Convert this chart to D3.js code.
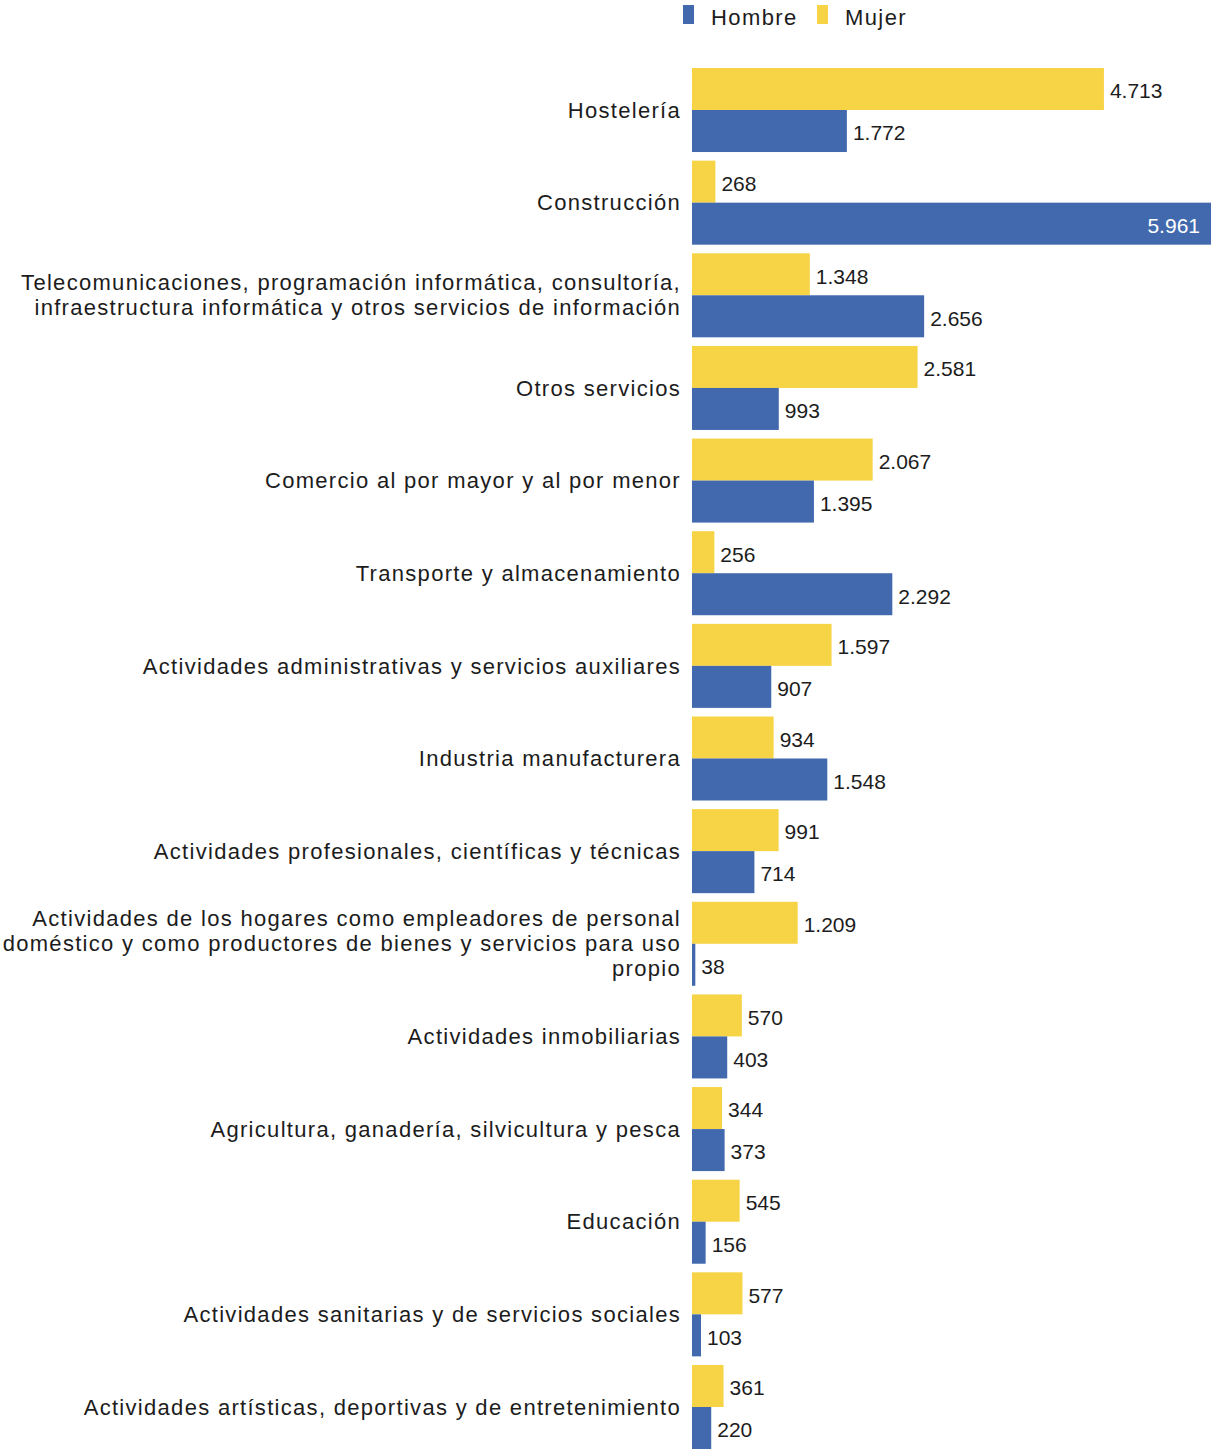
<!DOCTYPE html>
<html lang="es">
<head>
<meta charset="UTF-8" />
<title>Hombre / Mujer por actividad</title>
<script src="https://d3js.org/d3.v7.min.js"></script>
<style>
  body { margin: 0; background: #fff; }
  text { font-family: "Liberation Sans", Arial, sans-serif; fill: #1c1c1c; }
</style>
</head>
<body>
<script>

// categories, top to bottom (lines split where the label wraps)
var categories = [
  ["Hostelería"],
  ["Construcción"],
  ["Telecomunicaciones, programación informática, consultoría,", "infraestructura informática y otros servicios de información"],
  ["Otros servicios"],
  ["Comercio al por mayor y al por menor"],
  ["Transporte y almacenamiento"],
  ["Actividades administrativas y servicios auxiliares"],
  ["Industria manufacturera"],
  ["Actividades profesionales, científicas y técnicas"],
  ["Actividades de los hogares como empleadores de personal", "doméstico y como productores de bienes y servicios para uso", "propio"],
  ["Actividades inmobiliarias"],
  ["Agricultura, ganadería, silvicultura y pesca"],
  ["Educación"],
  ["Actividades sanitarias y de servicios sociales"],
  ["Actividades artísticas, deportivas y de entretenimiento"]
];

var mujer  = [4713, 268, 1348, 2581, 2067, 256, 1597, 934, 991, 1209, 570, 344, 545, 577, 361];
var hombre = [1772, 5961, 2656, 993, 1395, 2292, 907, 1548, 714, 38, 403, 373, 156, 103, 220];

var series = ["Mujer", "Hombre"];
var legendOrder = ["Hombre", "Mujer"];

var width = 1211, height = 1450;
var axisX = 692;

var color = d3.scaleOrdinal()
  .domain(["Hombre", "Mujer"])
  .range(["#4269ad", "#f7d445"]);

var fmt = d3.formatLocale({decimal: ",", thousands: ".", grouping: [3], currency: ["", "€"]}).format(",d");

var keys = categories.map(function(d) { return d.join(" "); });

var rows = keys.map(function(k, i) {
  return {key: k, lines: categories[i], Mujer: mujer[i], Hombre: hombre[i]};
});

var svg = d3.select("body").append("svg")
  .attr("width", width)
  .attr("height", height);

var y = d3.scaleBand()
  .domain(keys)
  .range([68, 1449])
  .paddingInner(0.093)
  .paddingOuter(0);

var yInner = d3.scaleBand()
  .domain(series)
  .range([0, y.bandwidth()]);

var x = d3.scaleLinear()
  .domain([0, 5961])
  .range([axisX, 1213]);

var groups = svg.append("g")
  .selectAll("g")
  .data(rows)
  .enter().append("g")
  .attr("transform", function(d) { return "translate(0," + y(d.key) + ")"; });

groups.selectAll("rect")
  .data(function(d) { return series.map(function(s) { return {s: s, v: d[s]}; }); })
  .enter().append("rect")
  .attr("x", x(0))
  .attr("y", function(d) { return yInner(d.s); })
  .attr("width", function(d) { return x(d.v) - x(0); })
  .attr("height", yInner.bandwidth())
  .attr("fill", function(d) { return color(d.s); });

// value labels: inside the bar if it would run off the page
groups.selectAll("text.val")
  .data(function(d) { return series.map(function(s) { return {s: s, v: d[s]}; }); })
  .enter().append("text")
  .attr("class", "val")
  .attr("font-size", "21px")
  .attr("dy", "0.35em")
  .attr("y", function(d) { return yInner(d.s) + yInner.bandwidth() / 2 + 2; })
  .attr("x", function(d) { return x(d.v) > 1150 ? width - 11 : x(d.v) + 6; })
  .attr("text-anchor", function(d) { return x(d.v) > 1150 ? "end" : "start"; })
  .style("fill", function(d) { return x(d.v) > 1150 ? "#fff" : null; })
  .text(function(d) { return fmt(d.v); });

// category labels
var lineH = 25;
groups.append("text")
  .attr("class", "cat")
  .attr("font-size", "22px")
  .attr("letter-spacing", "1.3px")
  .attr("text-anchor", "end")
  .selectAll("tspan")
  .data(function(d) {
    return d.lines.map(function(l, i) { return {l: l, i: i, n: d.lines.length}; });
  })
  .enter().append("tspan")
  .attr("x", 681)
  .attr("y", function(d) { return y.bandwidth() / 2 + (d.i - (d.n - 1) / 2) * lineH; })
  .attr("dy", "0.35em")
  .text(function(d) { return d.l; });

// legend
var legend = svg.append("g")
  .selectAll("g")
  .data(legendOrder)
  .enter().append("g")
  .attr("transform", function(d, i) { return "translate(" + (683 + i * 134) + ",0)"; });

legend.append("rect")
  .attr("x", 0)
  .attr("y", 5)
  .attr("width", 11)
  .attr("height", 19)
  .attr("fill", function(d) { return color(d); });

legend.append("text")
  .attr("x", 28)
  .attr("y", 17)
  .attr("dy", "0.35em")
  .attr("font-size", "22px")
  .attr("letter-spacing", "1.4px")
  .text(function(d) { return d; });

</script>
</body>
</html>
